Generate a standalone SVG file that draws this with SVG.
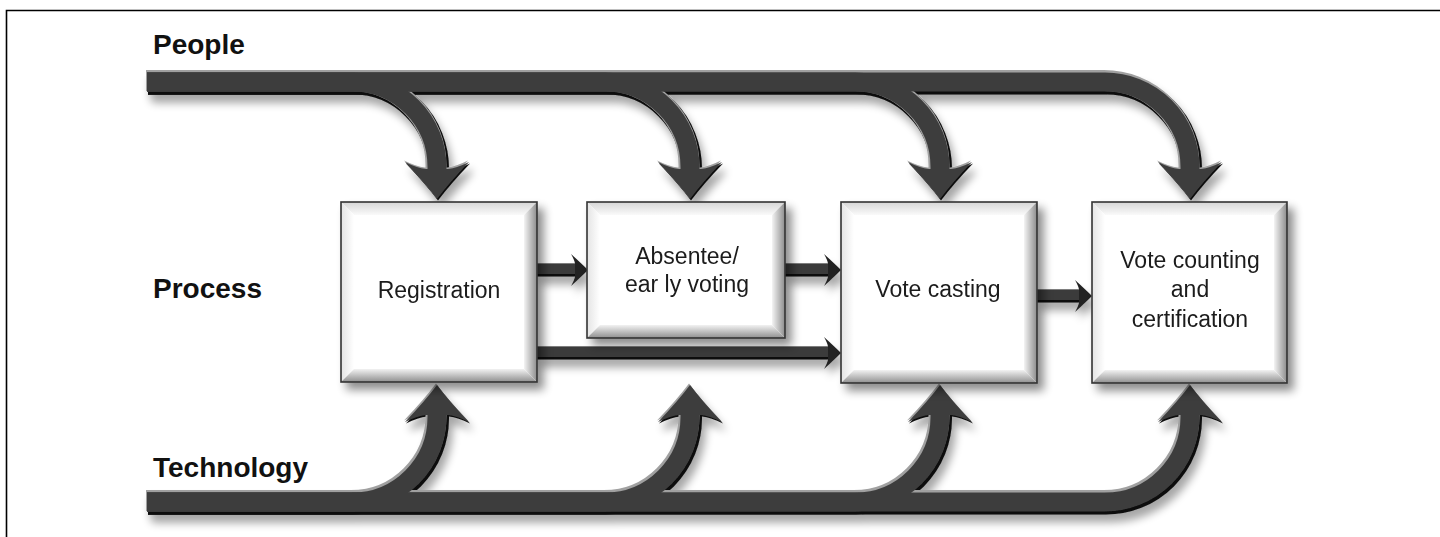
<svg xmlns="http://www.w3.org/2000/svg" xmlns:xlink="http://www.w3.org/1999/xlink" width="1440" height="537" viewBox="0 0 1440 537">
<style>
.lane{font-family:"Liberation Sans",Arial,sans-serif;font-weight:bold;font-size:28px;fill:#111}
.lbl{font-family:"Liberation Sans",Arial,sans-serif;font-size:23px;fill:#1a1a1a;text-anchor:middle}
.edge{fill:none;stroke:#333;stroke-width:1.6}
.face{fill:#fff}
.sh-dark{fill:none;stroke:#0d0d0d;stroke-width:22}
.sh-light{fill:none;stroke:#a0a0a0;stroke-width:21}
.sh-mid{fill:none;stroke:#3e3e3e;stroke-width:19}
.hd-dark{fill:#0d0d0d}
.hd-light{fill:#a0a0a0}
.hd-mid{fill:#3e3e3e}
.s-dark{fill:none;stroke:#0d0d0d;stroke-width:13}
.s-mid{fill:none;stroke:#3a3a3a;stroke-width:10}
</style>
<defs>
<filter id="shadow" x="-20%" y="-20%" width="150%" height="150%">
<feGaussianBlur in="SourceAlpha" stdDeviation="5"/>
<feOffset dx="6" dy="7" result="b"/>
<feComponentTransfer><feFuncA type="linear" slope="0.45"/></feComponentTransfer>
<feMerge><feMergeNode/><feMergeNode in="SourceGraphic"/></feMerge>
</filter>
<filter id="ashadow" x="-10%" y="-10%" width="130%" height="140%">
<feGaussianBlur in="SourceAlpha" stdDeviation="4"/>
<feOffset dx="4" dy="8" result="b"/>
<feComponentTransfer><feFuncA type="linear" slope="0.35"/></feComponentTransfer>
<feMerge><feMergeNode/><feMergeNode in="SourceGraphic"/></feMerge>
</filter>
<linearGradient id="gTop" x1="0" y1="0" x2="0" y2="1"><stop offset="0" stop-color="#d6d6d6"/><stop offset="1" stop-color="#fafafa"/></linearGradient>
<linearGradient id="gLeft" x1="0" y1="0" x2="1" y2="0"><stop offset="0" stop-color="#e4e4e4"/><stop offset="1" stop-color="#ffffff"/></linearGradient>
<linearGradient id="gRight" x1="0" y1="0" x2="1" y2="0"><stop offset="0" stop-color="#f4f4f4"/><stop offset="1" stop-color="#8c8c8c"/></linearGradient>
<linearGradient id="gBottom" x1="0" y1="0" x2="0" y2="1"><stop offset="0" stop-color="#f2f2f2"/><stop offset="1" stop-color="#8f8f8f"/></linearGradient>
<path id="hd" d="M0,0 Q-12,-16 -32,-37 Q-20,-31 -11,-30 H11 Q20,-31 32,-37 Q12,-16 0,0 Z"/>
<path id="sh" d="M0,0 Q-6,-6 -17,-16 Q-13,-9 -13,-6 V6 Q-13,9 -17,16 Q-6,6 0,0 Z"/>
<g id="topShafts">
<path d="M147,82 H352 A85,85 0 0 1 437,167 V175"/>
<path d="M147,82 H605 A85,85 0 0 1 690,167 V175"/>
<path d="M147,82 H855 A85,85 0 0 1 940,167 V175"/>
<path d="M147,82 H1105 A85,85 0 0 1 1190,167 V175"/>
</g>
<g id="topHeads">
<use xlink:href="#hd" transform="translate(437,199)"/>
<use xlink:href="#hd" transform="translate(690,199)"/>
<use xlink:href="#hd" transform="translate(940,199)"/>
<use xlink:href="#hd" transform="translate(1190,199)"/>
</g>
<g id="botShafts">
<path d="M147,502 H352 A85,85 0 0 0 437,417 V409"/>
<path d="M147,502 H605 A85,85 0 0 0 690,417 V409"/>
<path d="M147,502 H855 A85,85 0 0 0 940,417 V409"/>
<path d="M147,502 H1105 A85,85 0 0 0 1190,417 V409"/>
</g>
<g id="botHeads">
<use xlink:href="#hd" transform="translate(437,385) scale(1,-1)"/>
<use xlink:href="#hd" transform="translate(690,385) scale(1,-1)"/>
<use xlink:href="#hd" transform="translate(940,385) scale(1,-1)"/>
<use xlink:href="#hd" transform="translate(1190,385) scale(1,-1)"/>
</g>
</defs>
<rect width="1440" height="537" fill="#fff"/>
<g id="frame" fill="none" stroke="#000" stroke-width="1.6">
<path d="M6.5,537 V10.5 H1440"/>
</g>
<g id="lane-people"><text class="lane" x="153" y="54">People</text></g>
<g id="lane-process"><text class="lane" x="153" y="298">Process</text></g>
<g id="lane-technology"><text class="lane" x="153" y="477">Technology</text></g>
<g id="connectors">
<g id="people-arrows" filter="url(#ashadow)">
<use xlink:href="#topShafts" class="sh-dark" transform="translate(1,1.5)"/>
<use xlink:href="#topHeads" class="hd-dark" transform="translate(1,1.5)"/>
<use xlink:href="#topShafts" class="sh-light" transform="translate(-1,-1.5)"/>
<use xlink:href="#topHeads" class="hd-light" transform="translate(-1,-1.5)"/>
<use xlink:href="#topShafts" class="sh-mid"/>
<use xlink:href="#topHeads" class="hd-mid"/>
</g>
<g id="technology-arrows" filter="url(#ashadow)">
<use xlink:href="#botShafts" class="sh-dark" transform="translate(1,1.5)"/>
<use xlink:href="#botHeads" class="hd-dark" transform="translate(1,1.5)"/>
<use xlink:href="#botShafts" class="sh-light" transform="translate(-1,-1.5)"/>
<use xlink:href="#botHeads" class="hd-light" transform="translate(-1,-1.5)"/>
<use xlink:href="#botShafts" class="sh-mid"/>
<use xlink:href="#botHeads" class="hd-mid"/>
</g>
<g id="process-arrows" filter="url(#ashadow)">
<path class="s-dark" d="M537,270 H577"/><path class="s-mid" d="M537,269 H577"/>
<use xlink:href="#sh" fill="#222" transform="translate(588,270)"/>
<path class="s-dark" d="M785,270 H830"/><path class="s-mid" d="M785,269 H830"/>
<use xlink:href="#sh" fill="#222" transform="translate(841,270)"/>
<path class="s-dark" d="M537,353 H830"/><path class="s-mid" d="M537,352 H830"/>
<use xlink:href="#sh" fill="#222" transform="translate(841,353)"/>
<path class="s-dark" d="M1037,296 H1081"/><path class="s-mid" d="M1037,295 H1081"/>
<use xlink:href="#sh" fill="#222" transform="translate(1092,296)"/>
</g>
</g>
<g id="node-registration" filter="url(#shadow)">
<rect class="face" x="341" y="202" width="196" height="180"/>
<polygon fill="url(#gTop)" points="341,202 537,202 524,215 354,215"/>
<polygon fill="url(#gLeft)" points="341,202 354,215 354,369 341,382"/>
<polygon fill="url(#gRight)" points="537,202 537,382 524,369 524,215"/>
<polygon fill="url(#gBottom)" points="341,382 537,382 524,369 354,369"/>
<rect class="edge" x="341" y="202" width="196" height="180"/>
<text class="lbl" x="439" y="298">Registration</text>
</g>
<g id="node-absentee" filter="url(#shadow)">
<rect class="face" x="587" y="202" width="198" height="136"/>
<polygon fill="url(#gTop)" points="587,202 785,202 772,215 600,215"/>
<polygon fill="url(#gLeft)" points="587,202 600,215 600,325 587,338"/>
<polygon fill="url(#gRight)" points="785,202 785,338 772,325 772,215"/>
<polygon fill="url(#gBottom)" points="587,338 785,338 772,325 600,325"/>
<rect class="edge" x="587" y="202" width="198" height="136"/>
<text class="lbl" x="687" y="264">Absentee/</text>
<text class="lbl" x="687" y="292">ear ly voting</text>
</g>
<g id="node-vote-casting" filter="url(#shadow)">
<rect class="face" x="841" y="202" width="196" height="181"/>
<polygon fill="url(#gTop)" points="841,202 1037,202 1024,215 854,215"/>
<polygon fill="url(#gLeft)" points="841,202 854,215 854,370 841,383"/>
<polygon fill="url(#gRight)" points="1037,202 1037,383 1024,370 1024,215"/>
<polygon fill="url(#gBottom)" points="841,383 1037,383 1024,370 854,370"/>
<rect class="edge" x="841" y="202" width="196" height="181"/>
<text class="lbl" x="938" y="297">Vote casting</text>
</g>
<g id="node-vote-counting" filter="url(#shadow)">
<rect class="face" x="1092" y="202" width="195" height="181"/>
<polygon fill="url(#gTop)" points="1092,202 1287,202 1274,215 1105,215"/>
<polygon fill="url(#gLeft)" points="1092,202 1105,215 1105,370 1092,383"/>
<polygon fill="url(#gRight)" points="1287,202 1287,383 1274,370 1274,215"/>
<polygon fill="url(#gBottom)" points="1092,383 1287,383 1274,370 1105,370"/>
<rect class="edge" x="1092" y="202" width="195" height="181"/>
<text class="lbl" x="1190" y="268">Vote counting</text>
<text class="lbl" x="1190" y="297">and</text>
<text class="lbl" x="1190" y="327">certification</text>
</g>
</svg>
